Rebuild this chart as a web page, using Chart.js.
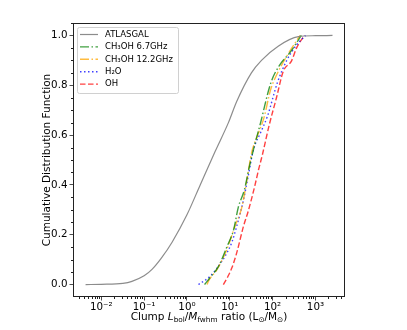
<!DOCTYPE html>
<html>
<head>
<meta charset="utf-8">
<script src="https://cdn.jsdelivr.net/npm/chart.js@4"></script>
<style>
  body { margin: 0; background: #fff; }
  canvas { display: block; }
</style>
</head>
<body>
<canvas id="myChart" width="407" height="330"></canvas>
<script>
// series values (x = L/M ratio, y = cumulative fraction)
var atlasX = [0.0043, 0.01, 0.032, 0.052, 0.1, 0.155, 0.25, 0.45, 1.0, 2.04, 4.57, 9.3, 14.5, 32, 55, 135, 400, 1000, 2500];
var atlasY = [0.0, 0.001, 0.005, 0.013, 0.035, 0.062, 0.105, 0.17, 0.28, 0.40, 0.535, 0.65, 0.735, 0.85, 0.90, 0.957, 0.995, 0.999, 1.0];

var m67X = [2.57, 3.55, 5.5, 8.5, 12.3, 15.8, 21.9, 28.8, 38, 50, 91, 141, 269, 468];
var m67Y = [0.0, 0.03, 0.074, 0.15, 0.22, 0.31, 0.38, 0.475, 0.56, 0.636, 0.81, 0.877, 0.937, 1.0];

var m122X = [2.95, 3.16, 5.0, 8.5, 13.2, 19.1, 25.1, 32.4, 44.7, 63, 89, 123, 214, 437];
var m122Y = [0.0, 0.013, 0.06, 0.14, 0.234, 0.31, 0.42, 0.53, 0.6, 0.67, 0.78, 0.84, 0.917, 1.0];

var h2oX = [1.86, 3.47, 5.25, 7.76, 11.2, 14.5, 20.9, 26.9, 35.5, 52.5, 75.9, 129, 214, 355, 589];
var h2oY = [0.0, 0.033, 0.07, 0.114, 0.17, 0.234, 0.34, 0.435, 0.54, 0.61, 0.676, 0.81, 0.90, 0.96, 1.0];

var ohX = [7.08, 8.9, 11.2, 14.5, 20.9, 26.9, 38.9, 46.8, 57.5, 83.2, 123, 178, 275, 363, 550];
var ohY = [0.0, 0.03, 0.067, 0.127, 0.234, 0.294, 0.40, 0.46, 0.52, 0.64, 0.75, 0.857, 0.897, 0.95, 1.0];

var labels = ['ATLASGAL', 'CH\u2083OH 6.7GHz', 'CH\u2083OH 12.2GHz', 'H\u2082O', 'OH'];
var yTicks = [0, 0.2, 0.4, 0.6, 0.8, 1.0];
var xTickExp = [-2, -1, 0, 1, 2, 3];

var FONT = '"DejaVu Sans", sans-serif';
var SUP = { '-': '\u207B', '0': '\u2070', '1': '\u00B9', '2': '\u00B2', '3': '\u00B3' };

function pts(xs, ys) {
    return xs.map(function (x, i) { return { x: x, y: ys[i] }; });
}

// spines, minor ticks, legend and axis titles
var extras = {
    id: 'extras',
    afterDraw: function (chart) {
        var c = chart.ctx, a = chart.chartArea;
        var xs = chart.scales.x, ys = chart.scales.y;
        c.save();
        c.strokeStyle = '#222';
        c.lineWidth = 1;
        c.strokeRect(a.left + 0.5, a.top + 0.5, a.right - a.left - 1, a.bottom - a.top - 1);

        // minor ticks
        c.beginPath();
        for (var e = -3; e <= 3; e++) {
            for (var k = 2; k <= 9; k++) {
                var v = k * Math.pow(10, e);
                if (v < xs.min || v > xs.max) continue;
                var px = Math.round(xs.getPixelForValue(v)) + 0.5;
                c.moveTo(px, a.bottom);
                c.lineTo(px, a.bottom + 2);
            }
        }
        for (var j = -1; j <= 21; j++) {
            if (j % 4 === 0) continue;
            var yv = j * 0.05;
            var py = Math.round(ys.getPixelForValue(yv)) + 0.5;
            if (py < a.top || py > a.bottom) continue;
            c.moveTo(a.left, py);
            c.lineTo(a.left - 2, py);
        }
        c.stroke();

        // legend
        var lx = 77, ly = 27, lw = 101, lh = 66;
        c.fillStyle = 'rgba(255,255,255,0.8)';
        c.strokeStyle = '#d0d0d0';
        c.lineWidth = 1;
        c.beginPath();
        c.roundRect(lx + 0.5, ly + 0.5, lw, lh, 2);
        c.fill();
        c.stroke();
        c.font = '8.5px ' + FONT;
        c.textBaseline = 'middle';
        chart.data.datasets.forEach(function (ds, i) {
            var y = ly + 7.5 + i * 12.4;
            c.strokeStyle = ds.borderColor;
            c.lineWidth = ds.borderWidth;
            c.setLineDash(ds.borderDash || []);
            c.beginPath();
            c.moveTo(80, y);
            c.lineTo(98, y);
            c.stroke();
            c.setLineDash([]);
            c.fillStyle = '#000';
            c.fillText(ds.label, 105, y);
        });

        // y title
        c.save();
        c.translate(47, (a.top + a.bottom) / 2);
        c.rotate(-Math.PI / 2);
        c.font = '10.5px ' + FONT;
        c.textAlign = 'center';
        c.textBaseline = 'middle';
        c.fillStyle = '#000';
        c.fillText('Cumulative Distribution Function', 0, 0);
        c.restore();

        // x title with subscripts
        var parts = [
            ['Clump ', '', 0], ['L', 'italic ', 0], ['bol', '', 1], ['/', '', 0],
            ['M', 'italic ', 0], ['fwhm', '', 1], [' ratio (L', '', 0], ['\u2299', '', 1],
            ['/M', '', 0], ['\u2299', '', 1], [')', '', 0]
        ];
        function fnt(p) { return p[1] + (p[2] ? '7.3px ' : '10.5px ') + FONT; }
        var total = 0;
        parts.forEach(function (p) { c.font = fnt(p); total += c.measureText(p[0]).width; });
        var x = (a.left + a.right) / 2 - total / 2, base = 320;
        c.textAlign = 'left';
        c.textBaseline = 'alphabetic';
        c.fillStyle = '#000';
        parts.forEach(function (p) {
            c.font = fnt(p);
            c.fillText(p[0], x, base + (p[2] ? 2 : 0));
            x += c.measureText(p[0]).width;
        });
        c.restore();
    }
};

var ctx = document.getElementById('myChart').getContext('2d');
var myChart = new Chart(ctx, {
    type: 'line',
    data: {
        datasets: [{
            label: labels[0],
            data: pts(atlasX, atlasY),
            borderColor: 'rgba(128,128,128,0.9)',
            borderWidth: 1.2
        }, {
            label: labels[1],
            data: pts(m67X, m67Y),
            borderColor: 'rgba(0,128,0,0.75)',
            borderWidth: 1.4,
            borderDash: [9, 2.5, 1.5, 2.5]
        }, {
            label: labels[2],
            data: pts(m122X, m122Y),
            borderColor: 'rgba(255,165,0,0.75)',
            borderWidth: 1.4,
            borderDash: [9, 2.5, 1.5, 2.5]
        }, {
            label: labels[3],
            data: pts(h2oX, h2oY),
            borderColor: 'rgba(0,0,255,0.75)',
            borderWidth: 1.4,
            borderDash: [1.5, 2.5]
        }, {
            label: labels[4],
            data: pts(ohX, ohY),
            borderColor: 'rgba(255,0,0,0.75)',
            borderWidth: 1.4,
            borderDash: [5.5, 2.5]
        }]
    },
    options: {
        responsive: false,
        animation: false,
        devicePixelRatio: 1,
        layout: { padding: { left: 0, top: 23, right: 62, bottom: 0 } },
        elements: {
            point: { radius: 0 },
            line: { cubicInterpolationMode: 'monotone', fill: false }
        },
        plugins: {
            legend: { display: false },
            title: { display: false },
            tooltip: { enabled: false }
        },
        scales: {
            x: {
                type: 'logarithmic',
                min: Math.pow(10, -2.66),
                max: Math.pow(10, 3.69),
                afterBuildTicks: function (s) {
                    s.ticks = xTickExp.map(function (e) { return { value: Math.pow(10, e) }; });
                },
                afterFit: function (s) { s.height = 33; },
                grid: { drawOnChartArea: false, tickLength: 3.5, color: '#222', lineWidth: 0.8 },
                border: { display: false },
                ticks: {
                    autoSkip: false,
                    maxRotation: 0,
                    padding: 1,
                    color: '#000',
                    font: { family: 'DejaVu Sans', size: 10.3 },
                    callback: function (v) {
                        var e = String(Math.round(Math.log10(v)));
                        return '10' + e.split('').map(function (ch) { return SUP[ch]; }).join('');
                    }
                }
            },
            y: {
                min: -0.05,
                max: 1.05,
                afterBuildTicks: function (s) {
                    s.ticks = yTicks.map(function (v) { return { value: v }; });
                },
                afterFit: function (s) { s.width = 73; },
                grid: { drawOnChartArea: false, tickLength: 3.5, color: '#222', lineWidth: 0.8 },
                border: { display: false },
                ticks: {
                    padding: 2,
                    color: '#000',
                    font: { family: 'DejaVu Sans', size: 10.3 },
                    callback: function (v) { return v.toFixed(1); }
                }
            }
        }
    },
    plugins: [extras]
});
</script>
</body>
</html>
